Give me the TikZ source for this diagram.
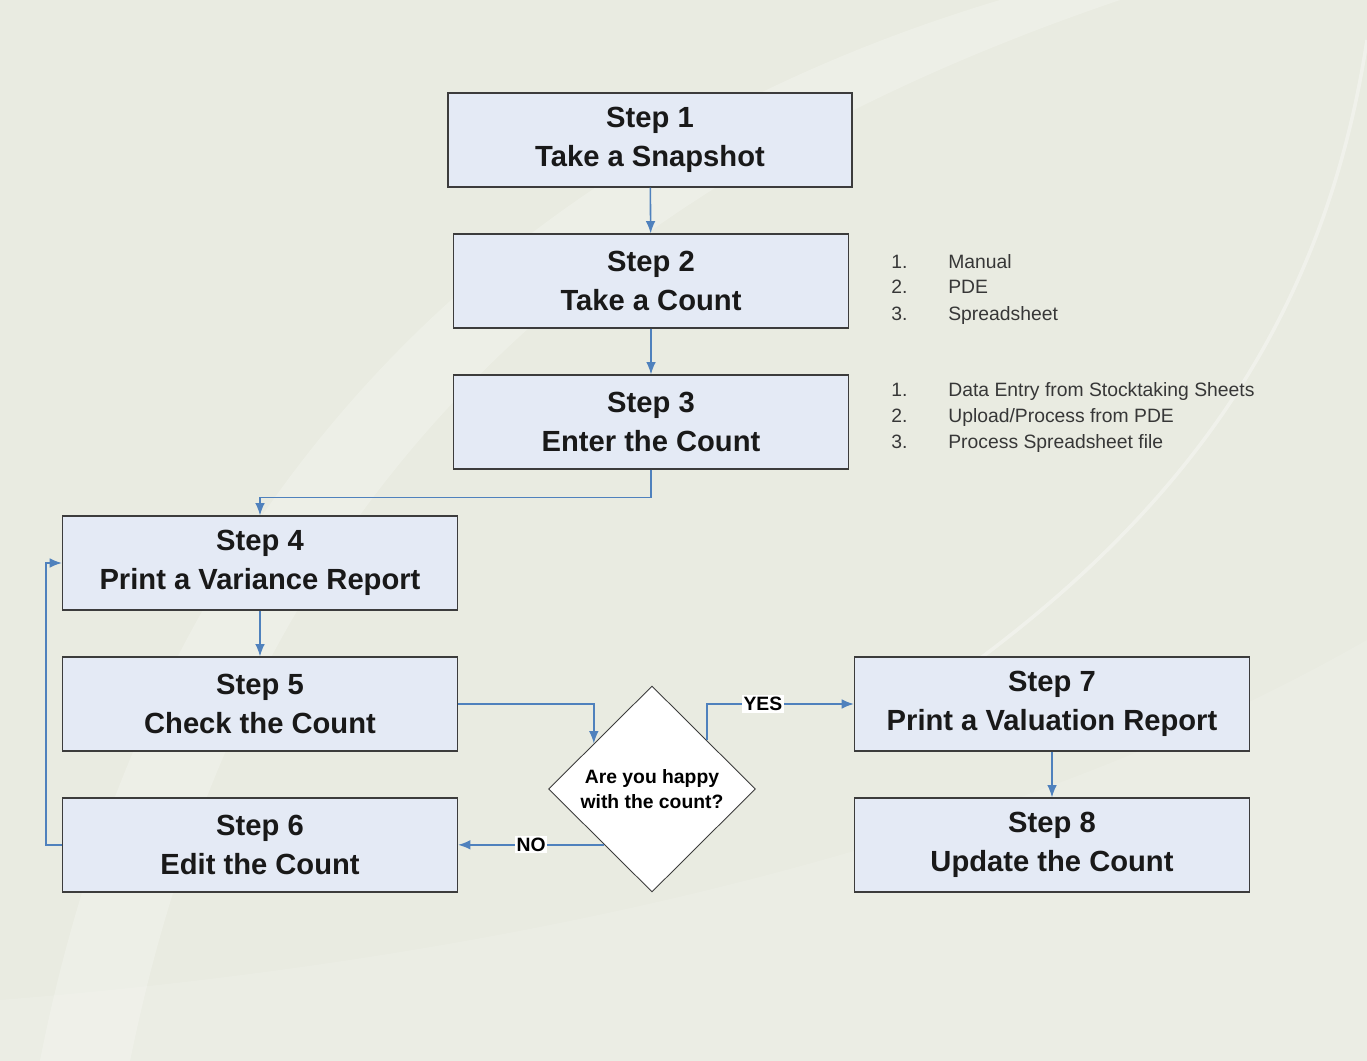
\documentclass[tikz,border=0pt]{standalone}
\usepackage{fontspec}
\setmainfont{Liberation Sans}
\usetikzlibrary{shapes.geometric,arrows.meta,calc}

\definecolor{bgpaper}{RGB}{233,235,225}
\definecolor{boxfill}{RGB}{228,234,245}
\definecolor{boxline}{RGB}{60,60,60}
\definecolor{flowblue}{RGB}{79,129,189}
\definecolor{listgray}{RGB}{55,55,55}

\begin{document}
\begin{tikzpicture}[x=0.02cm,y=-0.02cm,
  stepbox/.style={draw=boxline,fill=boxfill,line width=0.7pt,minimum width=7.9cm,minimum height=1.88cm,
    inner sep=0pt,align=center,text=black!90,font=\fontsize{16.6}{22.1}\selectfont\bfseries},
  askbox/.style={diamond,draw=boxline,fill=white,line width=0.5pt,aspect=1,inner sep=0pt,
    minimum width=4.14cm,minimum height=4.12cm,align=center,font=\fontsize{11}{14.2}\selectfont\bfseries},
  flow/.style={draw=flowblue,line width=0.9pt,-{Latex[length=7pt,width=5.5pt]}},
  answer/.style={fill=white,inner sep=1pt,font=\fontsize{11}{13}\selectfont\bfseries},
  listtext/.style={anchor=base west,inner sep=0pt,text=listgray,font=\fontsize{11}{13}\selectfont}]

\useasboundingbox (0,0) rectangle (1367,1061);
\fill[bgpaper] (0,0) rectangle (1367,1061);
\begin{scope}
\clip (0,0) rectangle (1367,1061);
\fill[white,opacity=0.22] (40,1061) .. controls (150,500) and (500,150) .. (1000,0) -- (1120,0) .. controls (560,190) and (240,520) .. (130,1061) -- cycle;
\fill[white,opacity=0.12] (0,1061) -- (0,1000) .. controls (500,960) and (1000,850) .. (1367,640) -- (1367,1061) -- cycle;
\draw[white,opacity=0.35,line width=2pt] (1367,40) .. controls (1320,350) and (1150,560) .. (860,740);
\end{scope}

% the steps
\node[stepbox,minimum width=8.08cm] (s1) at (650,140) {Step 1\\Take a Snapshot};
\node[stepbox] (s2) at (651,281) {Step 2\\Take a Count};
\node[stepbox] (s3) at (651,422) {Step 3\\Enter the Count};
\node[stepbox] (s4) at (260,563) {Step 4\\Print a Variance Report};
\node[stepbox] (s5) at (260,704) {Step 5\\Check the Count};
\node[stepbox] (s6) at (260,845) {Step 6\\Edit the Count};
\node[stepbox] (s7) at (1052,704) {Step 7\\Print a Valuation Report};
\node[stepbox] (s8) at (1052,845) {Step 8\\Update the Count};
\node[askbox] (q) at (652,789) {Are you happy\\with the count?};

\coordinate (qin) at ($(q.west)!0.44!(q.north)$);
\coordinate (qyes) at ($(q.north)!0.53!(q.east)$);
\coordinate (qno) at ($(q.west)!0.54!(q.south)$);

% notes beside step 2 and 3
\foreach \i/\t in {1/Manual,2/PDE,3/Spreadsheet}{
  \node[listtext] (mn\i) at (891,{242+26*\i}) {\i.};
  \node[listtext] (mt\i) at (948,{242+26*\i}) {\t};
}
\foreach \i/\t in {1/{Data Entry from Stocktaking Sheets},2/{Upload/Process from PDE},3/{Process Spreadsheet file}}{
  \node[listtext] (en\i) at (891,{370+26*\i}) {\i.};
  \node[listtext] (et\i) at (948,{370+26*\i}) {\t};
}

\draw[flow] (s1) -- (s2);
\draw[flow] (s2) -- (s3);
\draw[flow] (s3.south) -- ++(0,28) -| (s4.north);
\draw[flow] (s4) -- (s5);
\draw[flow] (s5.east) -| (qin);
\draw[flow] (qyes) |- (s7.west) node[answer,pos=0.69] (yes) {YES};
\draw[flow] (qno) -- (qno -| s6.east) node[answer,midway] (no) {NO};
\draw[flow] (s6.west) -- ++(-16,0) |- (s4.west);
\draw[flow] (s7) -- (s8);
\end{tikzpicture}
\end{document}
